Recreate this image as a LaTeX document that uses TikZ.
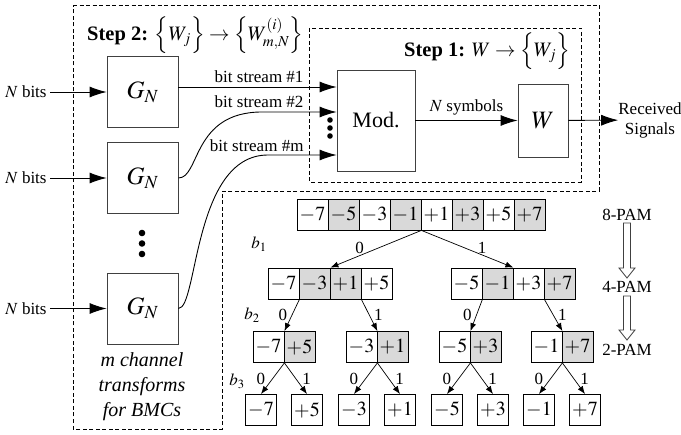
\documentclass[tikz,border=0pt]{standalone}
\usepackage{amsmath}
\usepackage{mathptmx}
\usepackage[no-math]{fontspec}
\setmainfont{Liberation Serif}
\usetikzlibrary{arrows.meta,positioning}

% hollow down arrow: x, y of tail, y of tip
\newcommand{\hollowdown}[3]{%
  \draw[line width=0.8pt, draw=black!75, fill=white]
    (#1-3.5,#2) -- (#1+3.5,#2) -- (#1+3.5,#3-10) -- (#1+8,#3-10) -- (#1,#3)
    -- (#1-8,#3-10) -- (#1-3.5,#3-10) -- cycle;}

\begin{document}
\begin{tikzpicture}[x=1pt,y=-1pt,
    every node/.style={font=\fontsize{17}{20}\selectfont},
    dline/.style={draw, line width=0.9pt, dash pattern=on 4pt off 2.5pt},
    box/.style={draw=black!75, line width=0.9pt, inner sep=0pt},
    gbox/.style={box, minimum width=71pt, minimum height=71pt,
        font=\fontsize{25}{28}\selectfont},
    arr/.style={-{Latex[length=17pt,width=11pt]}, line width=0.9pt},
    tarr/.style={-{Latex[length=8pt,width=6pt]}, line width=0.7pt},
    cell/.style={draw, line width=0.8pt, minimum width=31pt, minimum height=31pt,
        inner sep=0pt, font=\fontsize{20}{22}\selectfont},
    gcell/.style={cell, fill=black!15},
    steplabel/.style={anchor=west, inner sep=0pt, font=\fontsize{20.5}{24}\selectfont},
  ]
  \useasboundingbox (0,0) rectangle (681,435);

  % dashed frames
  \draw[dline] (73,5) -- (599,5) -- (599,191) -- (222,191) -- (222,429) -- (73,429) -- cycle;
  \draw[dline] (309,28) rectangle (581,182);
  \node[steplabel] (step2) at (87,35.5)
    {\textbf{Step 2:} $\Big\{W_j\Big\}\rightarrow\Big\{W^{(i)}_{m,N}\Big\}$};
  \node[steplabel] (step1) at (404,51) {\textbf{Step 1:} $W\rightarrow\Big\{W_j\Big\}$};

  % channel transforms
  \node[gbox] (G1) at (142.5,92) {$G_N$};
  \node[gbox] (G2) at (142.5,178) {$G_N$};
  \node[gbox] (G3) at (142.5,308.5) {$G_N$};
  \foreach \yy in {233,243.5,254} \fill (142,\yy) circle (3.3pt);
  \node (nb1) at (26,92) {$N$ bits};
  \node (nb2) at (26,178) {$N$ bits};
  \node (nb3) at (26,308.5) {$N$ bits};
  \draw[arr] (nb1) -- (G1);
  \draw[arr] (nb2) -- (G2);
  \draw[arr] (nb3) -- (G3);
  \node[align=center, font=\fontsize{20}{25}\selectfont\itshape] (bmc) at (142,387)
    {m channel\\transforms\\for BMCs};

  % modulation and channel
  \node[box, minimum width=78pt, minimum height=101pt,
    font=\fontsize{22}{24}\selectfont] (mod) at (376,120.5) {Mod.};
  \node[gbox, minimum width=50pt, minimum height=73pt] (chan) at (543,120.5) {$W$};
  \node[align=center, inner sep=0pt] (rx) at (650,120) {Received\\Signals};
  \draw[arr] ([yshift=5pt]G1.east) -- ([yshift=33.5pt]mod.west);
  \draw[arr] (G2.east) .. controls (200,178) and (192,112) .. (262,112)
    -- ([yshift=8.5pt]mod.west);
  \draw[arr] (G3.east) .. controls (198,308.5) and (193,155) .. (268,155)
    -- ([yshift=-34.5pt]mod.west);
  \foreach \yy in {120,128,136} \fill (330,\yy) circle (2.8pt);
  \node[anchor=east] (bs1) at (307,77) {bit stream \#1};
  \node[anchor=east] (bs2) at (307,102) {bit stream \#2};
  \node[anchor=east] (bsm) at (307,146) {bit stream \#m};
  \draw[arr] (mod) -- node[above, yshift=2pt] {$N$ symbols} (chan);
  \draw[arr] (chan) -- (rx);

  % set partitioning tree
  \foreach \val/\sty [count=\i] in {-7/cell,-5/gcell,-3/cell,-1/gcell,+1/cell,+3/gcell,+5/cell,+7/gcell}
    \node[\sty] (t\i) at (281.5+31*\i,214.5) {$\val$};
  \foreach \val/\sty [count=\i] in {-7/cell,-3/gcell,+1/gcell,+5/cell}
    \node[\sty] (l\i) at (252.5+31*\i,283.5) {$\val$};
  \foreach \val/\sty [count=\i] in {-5/cell,-1/gcell,+3/cell,+7/gcell}
    \node[\sty] (r\i) at (435.5+31*\i,283.5) {$\val$};
  \draw[tarr] (t4.south east) -- node[pos=.68, above, inner sep=1.5pt] {0} (l2.north east);
  \draw[tarr] (t4.south east) -- node[pos=.66, above, inner sep=1.5pt] {1} (r2.north east);

  \foreach \cx/\lo/\hi [count=\k] in {284/-7/+5, 377/-3/+1, 470/-5/+3, 562/-1/+7} {
    \node[cell] (qa\k) at (\cx-15.5,347) {$\lo$};
    \node[gcell] (qb\k) at (\cx+15.5,347) {$\hi$};
    \node[cell] (sa\k) at (\cx-23,410) {$\lo$};
    \node[cell] (sb\k) at (\cx+23,410) {$\hi$};
    \draw[tarr] (qa\k.south east) -- node[left=4pt] {0} (sa\k.north);
    \draw[tarr] (qa\k.south east) -- node[right=3pt] {1} (sb\k.north);
  }
  \draw[tarr] (l1.south east) -- node[left=1pt] {0} (qa1.north east);
  \draw[tarr] (l3.south east) -- node[right=1pt] {1} (qa2.north east);
  \draw[tarr] (r1.south east) -- node[left=1pt] {0} (qa3.north east);
  \draw[tarr] (r3.south east) -- node[right=1pt] {1} (qa4.north east);

  \node (b1) at (259,244) {$b_1$};
  \node (b2) at (252,315) {$b_2$};
  \node (b3) at (237,381) {$b_3$};

  \node (pam8) at (627,215) {8-PAM};
  \node (pam4) at (627,287) {4-PAM};
  \node (pam2) at (627,350) {2-PAM};
  \hollowdown{627}{223}{278}
  \hollowdown{627}{296}{340}
\end{tikzpicture}
\end{document}
